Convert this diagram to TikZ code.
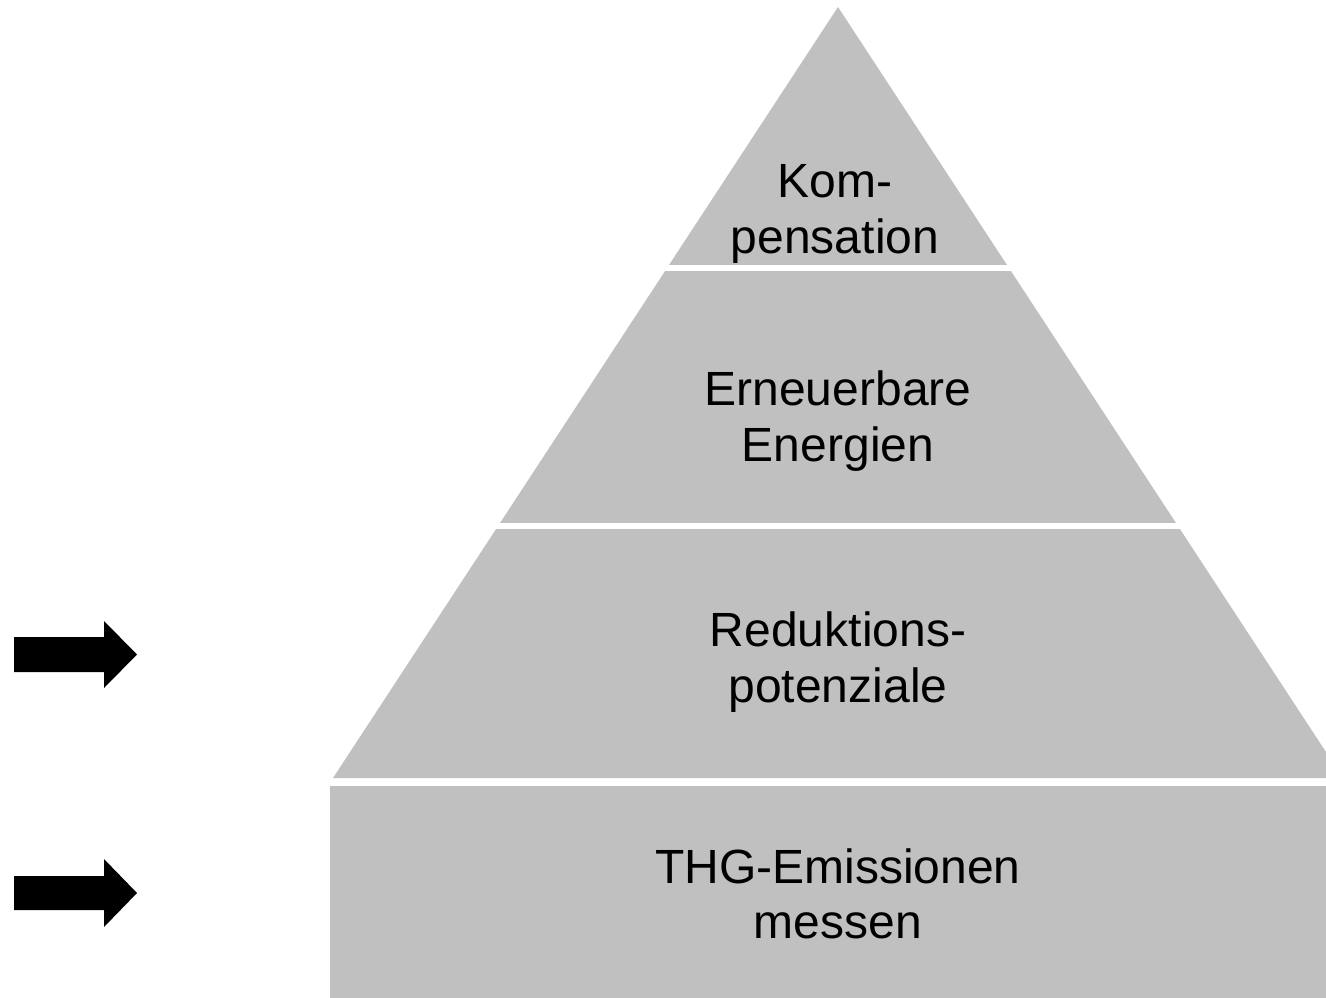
\documentclass[tikz,border=0pt]{standalone}
\usepackage{fontspec}
\setmainfont{Liberation Sans}
\definecolor{layergray}{RGB}{192,192,192}
\begin{document}
\begin{tikzpicture}[x=1pt,y=-1pt,
  layer/.style={fill=layergray,draw=none},
  gap/.style={draw=white,line width=6pt},
  label/.style={align=center,font=\fontsize{48}{55.5}\selectfont,inner sep=0pt},
  blockarrow/.style={fill=black,draw=none}]
  \useasboundingbox (0,0) rectangle (1326,997);
  \clip (0,0) rectangle (1326,997);
  % pyramid body
  \fill[layer] (838,7) -- (333,778) -- (1343,778) -- cycle;
  % separating lines between the levels
  \draw[gap] (300,268) -- (1326,268);
  \draw[gap] (300,526) -- (1326,526);
  % base block
  \fill[layer] (330,786) rectangle (1330,1000);
  % level labels
  \node[label] (komp) at (835,214) {Kom-\\pensation};
  \node[label] (ee) at (838,421) {Erneuerbare\\Energien};
  \node[label] (red) at (838,662) {Reduktions-\\potenziale};
  \node[label] (thg) at (838,894) {THG-Emissionen\\messen};
  % arrows on the left
  \fill[blockarrow] (14,637) -- (104,637) -- (104,621) -- (137,654.5) -- (104,688) -- (104,672) -- (14,672) -- cycle;
  \fill[blockarrow] (14,876) -- (104,876) -- (104,859) -- (137,893) -- (104,927) -- (104,910) -- (14,910) -- cycle;
\end{tikzpicture}
\end{document}
